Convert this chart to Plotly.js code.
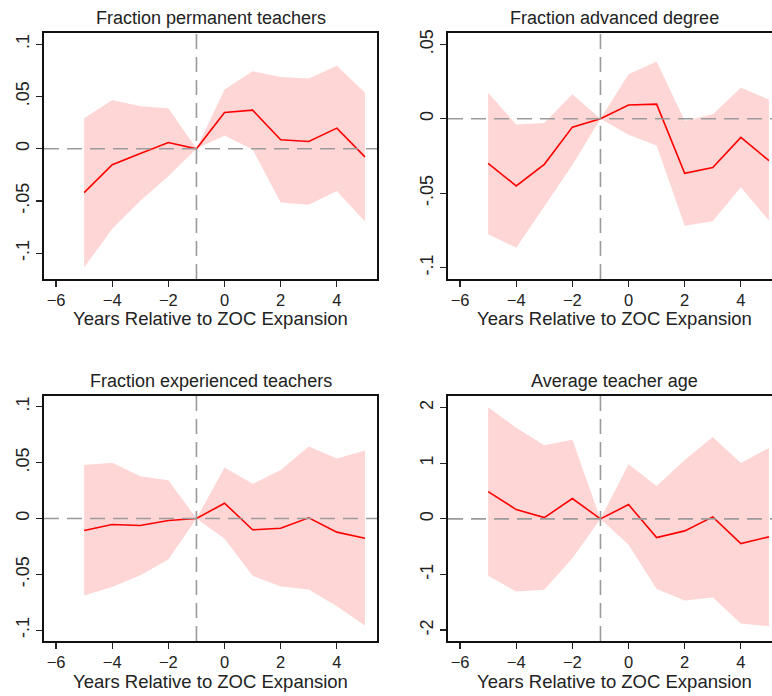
<!DOCTYPE html>
<html>
<head>
<meta charset="utf-8">
<script src="https://cdn.plot.ly/plotly-3.0.1.min.js"></script>
<style>
html,body{margin:0;padding:0;overflow:hidden;background:#fff;}
#chart{width:800px;height:696px;}
</style>
</head>
<body>
<div id="chart"></div>
<script>
// Event-time (years relative to ZOC expansion)
const years = [-5, -4, -3, -2, -1, 0, 1, 2, 3, 4, 5];

// Panel 1: Fraction permanent teachers
const permCoef  = [-0.042, -0.0153, -0.0045, 0.006, 0, 0.0348, 0.037, 0.0086, 0.007, 0.0198, -0.0077];
const permUpper = [0.0293, 0.0466, 0.0408, 0.0389, 0, 0.0568, 0.0743, 0.0686, 0.0673, 0.0794, 0.0536];
const permLower = [-0.1136, -0.0766, -0.0498, -0.0262, 0, 0.0128, -0.0006, -0.0514, -0.0536, -0.0405, -0.0695];

// Panel 2: Fraction advanced degree
const advCoef  = [-0.0299, -0.0451, -0.0306, -0.0056, 0, 0.0092, 0.0098, -0.0366, -0.0328, -0.0125, -0.0281];
const advUpper = [0.0174, -0.0038, -0.0029, 0.0165, 0, 0.0299, 0.0384, -0.0013, 0.0031, 0.0208, 0.0129];
const advLower = [-0.0775, -0.0866, -0.0589, -0.031, 0, -0.0107, -0.0179, -0.0719, -0.0688, -0.046, -0.0683];

// Panel 3: Fraction experienced teachers
const expCoef  = [-0.0107, -0.0054, -0.0063, -0.0018, 0, 0.0137, -0.0101, -0.0087, 0.0006, -0.0122, -0.0176];
const expUpper = [0.0478, 0.0499, 0.0379, 0.0343, 0, 0.0457, 0.031, 0.0433, 0.0645, 0.0537, 0.0609];
const expLower = [-0.069, -0.0612, -0.0507, -0.0367, 0, -0.0182, -0.0513, -0.0609, -0.0636, -0.0785, -0.0958];

// Panel 4: Average teacher age
const ageCoef  = [0.491, 0.168, 0.024, 0.365, 0, 0.257, -0.335, -0.216, 0.036, -0.443, -0.323];
const ageUpper = [2.006, 1.64, 1.323, 1.425, 0, 0.982, 0.593, 1.06, 1.473, 1.006, 1.275];
const ageLower = [-1.024, -1.305, -1.275, -0.707, 0, -0.467, -1.263, -1.467, -1.413, -1.88, -1.928];

const titles = ["Fraction permanent teachers", "Fraction advanced degree",
                "Fraction experienced teachers", "Average teacher age"];
const xTitle = "Years Relative to ZOC Expansion";

const xTickVals = [-6, -4, -2, 0, 2, 4];
const yTicks1 = {vals: [-0.1, -0.05, 0, 0.05, 0.1], text: ["-.1", "-.05", "0", ".05", ".1"]};
const yTicks2 = {vals: [-0.1, -0.05, 0, 0.05], text: ["-.1", "-.05", "0", ".05"]};
const yTicks4 = {vals: [-2, -1, 0, 1, 2], text: ["-2", "-1", "0", "1", "2"]};

const W = 800, H = 696;
const FILL = "rgb(255,214,214)";
const RED = "rgb(255,0,0)";
const GRAY = "rgb(155,155,155)";
const FONT = "Liberation Sans, Arial, sans-serif";

const panels = [
  {coef: permCoef, up: permUpper, lo: permLower, yr: [-0.1246, 0.1108], yt: yTicks1, px: [44, 377], py: [33, 279]},
  {coef: advCoef,  up: advUpper,  lo: advLower,  yr: [-0.1076, 0.0576], yt: yTicks2, px: [448, 781], py: [33, 279]},
  {coef: expCoef,  up: expUpper,  lo: expLower,  yr: [-0.1096, 0.1096], yt: yTicks1, px: [44, 377], py: [396, 641]},
  {coef: ageCoef,  up: ageUpper,  lo: ageLower,  yr: [-2.196, 2.21],    yt: yTicks4, px: [448, 781], py: [396, 641]}
];

const data = [];
const layout = {
  width: W, height: H,
  margin: {l: 0, r: 0, t: 0, b: 0},
  paper_bgcolor: "#fff", plot_bgcolor: "#fff",
  showlegend: false,
  font: {family: FONT, size: 18, color: "#222"},
  shapes: [], annotations: []
};

panels.forEach((p, i) => {
  const n = i + 1;
  const xa = "x" + (n === 1 ? "" : n), ya = "y" + (n === 1 ? "" : n);
  const xk = "xaxis" + (n === 1 ? "" : n), yk = "yaxis" + (n === 1 ? "" : n);
  data.push({x: years, y: p.lo, xaxis: xa, yaxis: ya, type: "scatter", mode: "lines",
             line: {width: 0, color: FILL}, hoverinfo: "skip"});
  data.push({x: years, y: p.up, xaxis: xa, yaxis: ya, type: "scatter", mode: "lines",
             fill: "tonexty", fillcolor: FILL, line: {width: 0, color: FILL}, hoverinfo: "skip"});
  data.push({x: years, y: p.coef, xaxis: xa, yaxis: ya, type: "scatter", mode: "lines",
             line: {width: 1.6, color: RED}});

  layout[xk] = {
    domain: [p.px[0] / W, p.px[1] / W], anchor: ya,
    range: [-6.43, 5.43], tickvals: xTickVals, ticks: "outside", ticklen: 6, tickwidth: 1.2,
    tickcolor: "#222", showgrid: false, zeroline: false, showline: true, mirror: true,
    linecolor: "#111", linewidth: 1.6, tickfont: {size: 16.5, color: "#222"}
  };
  layout[yk] = {
    domain: [1 - p.py[1] / H, 1 - p.py[0] / H], anchor: xa,
    range: p.yr, tickvals: p.yt.vals, ticktext: p.yt.text, tickangle: -90,
    ticks: "outside", ticklen: 6, tickwidth: 1.2, tickcolor: "#222",
    showgrid: false, zeroline: false, showline: true, mirror: true,
    linecolor: "#111", linewidth: 1.6, tickfont: {size: 18, color: "#222"}
  };
  layout.shapes.push({type: "line", xref: xa + " domain", yref: ya, x0: 0, x1: 1, y0: 0, y1: 0,
                      line: {color: GRAY, width: 1.6, dash: "15px,8px"}, layer: "above"});
  layout.shapes.push({type: "line", xref: xa, yref: ya + " domain", x0: -1, x1: -1, y0: 0, y1: 1,
                      line: {color: GRAY, width: 1.6, dash: "15px,8px"}, layer: "above"});
  const cx = (p.px[0] + p.px[1]) / 2 / W;
  layout.annotations.push({text: titles[i], xref: "paper", yref: "paper", x: cx,
                           y: 1 - (p.py[0] - 15) / H, xanchor: "center", yanchor: "middle",
                           showarrow: false, font: {size: 18, color: "#222"}});
  layout.annotations.push({text: xTitle, xref: "paper", yref: "paper", x: cx,
                           y: 1 - (p.py[1] + 40) / H, xanchor: "center", yanchor: "middle",
                           showarrow: false, font: {size: 18.5, color: "#222"}});
});

Plotly.newPlot("chart", data, layout, {staticPlot: true, displayModeBar: false});
</script>
</body>
</html>
